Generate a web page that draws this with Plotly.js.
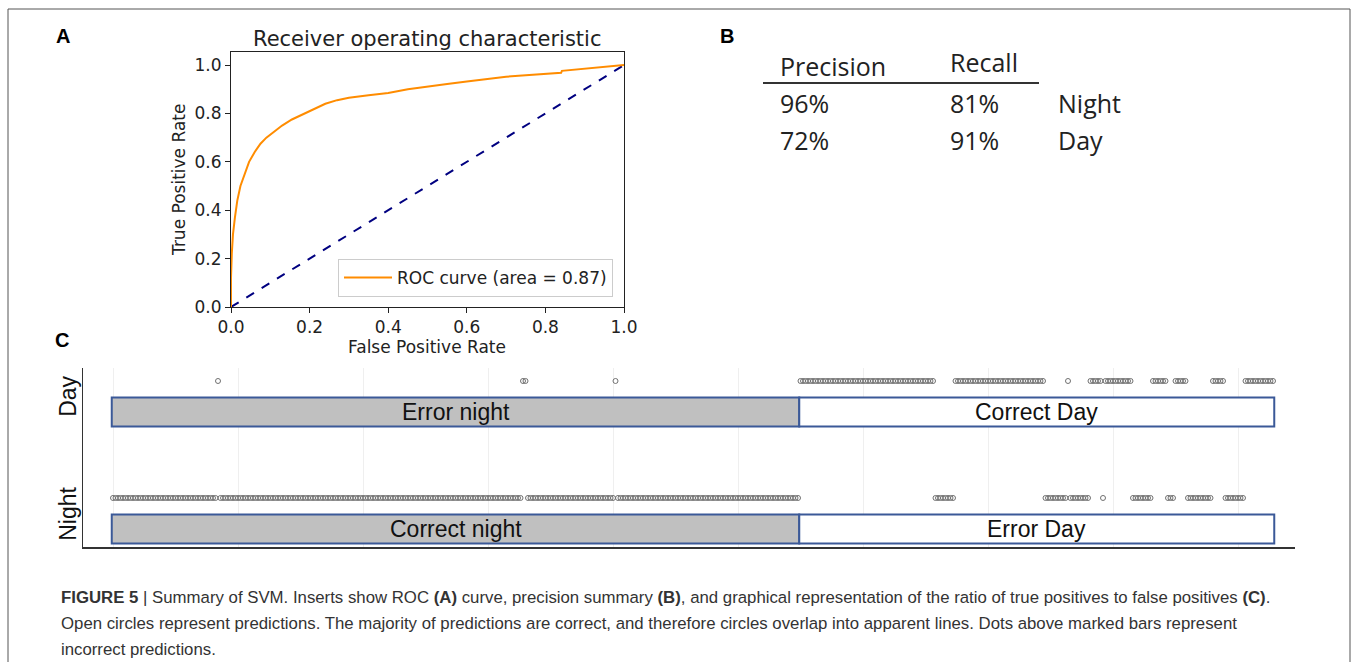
<!DOCTYPE html>
<html><head><meta charset="utf-8">
<script src="https://cdn.plot.ly/plotly-3.0.1.min.js"></script>
<style>html,body{margin:0;padding:0;background:#fff;}#chart{width:1358px;height:662px;}</style>
</head><body><div id="chart"></div>
<script>
// ---------- DATA ----------
// Panel A: ROC curve
const rocFpr = [0, 0, 0.002, 0.005, 0.01, 0.016, 0.024, 0.034, 0.046, 0.06, 0.075, 0.09, 0.11, 0.13, 0.155, 0.18, 0.2, 0.22, 0.24, 0.27, 0.3, 0.35, 0.4, 0.45, 0.5, 0.55, 0.6, 0.65, 0.7, 0.75, 0.8, 0.84, 0.842, 0.88, 0.92, 0.96, 1.0];
const rocTpr = [0, 0.12, 0.22, 0.3, 0.37, 0.44, 0.5, 0.55, 0.6, 0.64, 0.675, 0.7, 0.725, 0.75, 0.775, 0.795, 0.81, 0.825, 0.84, 0.855, 0.865, 0.875, 0.885, 0.9, 0.912, 0.922, 0.932, 0.942, 0.952, 0.958, 0.964, 0.968, 0.976, 0.982, 0.988, 0.994, 1.0];
const chanceLine = [0, 1];
const rocLegend = 'ROC curve (area = 0.87)';
const rocTitle = 'Receiver operating characteristic';
const rocXTitle = 'False Positive Rate';
const rocYTitle = 'True Positive Rate';
const rocTicks = [0, 0.2, 0.4, 0.6, 0.8, 1.0];

// Panel B: precision / recall summary
const tableHeaders = ['Precision', 'Recall'];
const tableClasses = ['Night', 'Day'];
const tablePrecision = ['96%', '72%'];
const tableRecall = ['81%', '91%'];

// Panel C: predictions per sample (run-length encoded, in sample order)
const rowNames = ['Night', 'Day'];               // y rows 0, 1
const predRunLabel = ['Night','Day','Night','Day','Night','Day','Night','Day','Night','Day','Night','Day','Night','Day','Night','Day','Night','Day','Night','Day','Night','Day','Night','Day'];
const predRunLength = [42, 1, 121, 2, 35, 1, 73, 54, 8, 36, 9, 1, 8, 5, 1, 11, 8, 6, 3, 5, 10, 5, 8, 12];
const trueRunLabel = ['Night', 'Day'];
const trueRunLength = [275, 190];
// bar captions: [true run][row Night, row Day]
const barCaptions = [['Correct night', 'Error night'], ['Error Day', 'Correct Day']];
const gridSamples = [0, 50, 100, 150, 200, 250, 300, 350, 400, 450];

const panelLetters = ['A', 'B', 'C'];
const captionLines = [
  '<b>FIGURE 5</b> | Summary of SVM. Inserts show ROC <b>(A)</b> curve, precision summary <b>(B)</b>, and graphical representation of the ratio of true positives to false positives <b>(C)</b>.',
  'Open circles represent predictions. The majority of predictions are correct, and therefore circles overlap into apparent lines. Dots above marked bars represent',
  'incorrect predictions.'
];

// ---------- LAYOUT HELPERS ----------
const W = 1358, H = 662;
const px = x => x / W;
const py = y => 1 - y / H;
const dotOffset = 0.265;
const barThickness = 0.248;

// decode predictions
const predX = {Night: [], Day: []};
let s = 0;
predRunLabel.forEach((lab, i) => { for (let k = 0; k < predRunLength[i]; k++) { predX[lab].push(s); s++; } });

const traces = [];
traces.push({x: chanceLine, y: chanceLine, type: 'scatter', mode: 'lines', line: {color: 'navy', width: 2, dash: 'dash'}, showlegend: false, xaxis: 'x', yaxis: 'y', hoverinfo: 'skip'});
traces.push({x: rocFpr, y: rocTpr, type: 'scatter', mode: 'lines', name: rocLegend, line: {color: 'darkorange', width: 2}, xaxis: 'x', yaxis: 'y'});

// bars (true labels)
let start = 0;
const annotations = [];
const barFills = {Night: '#c0c0c0', Day: '#ffffff'};
trueRunLabel.forEach((lab, t) => {
  const len = trueRunLength[t];
  const b = start - 0.5;
  traces.push({type: 'bar', orientation: 'h', y: [0, 1], x: [len, len], base: [b, b], width: barThickness,
    marker: {color: barFills[lab], line: {color: '#3b5998', width: 2}}, showlegend: false, xaxis: 'x2', yaxis: 'y2', hoverinfo: 'skip'});
  [0, 1].forEach(r => {
    annotations.push({xref: 'x2', yref: 'y2', x: b + len / 2, y: r, text: barCaptions[t][r], showarrow: false,
      font: {family: 'Liberation Sans, Arial', size: 23, color: '#111'}, xanchor: 'center', yanchor: 'middle'});
  });
  start += len;
});

// prediction dots
rowNames.forEach((name, r) => {
  traces.push({type: 'scatter', mode: 'markers', x: predX[name], y: predX[name].map(() => r + dotOffset),
    marker: {symbol: 'circle-open', size: 5, color: '#707070', line: {width: 1, color: '#707070'}},
    showlegend: false, xaxis: 'x2', yaxis: 'y2', hoverinfo: 'skip'});
  annotations.push({xref: 'paper', yref: 'y2', x: px(68), y: r + 0.13, text: name, textangle: -90, showarrow: false,
    font: {family: 'Liberation Sans, Arial', size: 23, color: '#111'}, xanchor: 'center', yanchor: 'middle'});
});

// Panel A texts
const dv = 'DejaVu Sans';
annotations.push({xref: 'paper', yref: 'paper', x: px(427), y: py(39), text: rocTitle, showarrow: false, font: {family: dv, size: 21, color: '#222'}, xanchor: 'center', yanchor: 'middle'});
annotations.push({xref: 'paper', yref: 'paper', x: px(427), y: py(347), text: rocXTitle, showarrow: false, font: {family: dv, size: 17, color: '#222'}, xanchor: 'center', yanchor: 'middle'});
annotations.push({xref: 'paper', yref: 'paper', x: px(179), y: py(180), text: rocYTitle, textangle: -90, showarrow: false, font: {family: dv, size: 17, color: '#222'}, xanchor: 'center', yanchor: 'middle'});

// Panel letters
const letterPos = [[63, 36], [727, 36], [62, 340]];
panelLetters.forEach((L, i) => annotations.push({xref: 'paper', yref: 'paper', x: px(letterPos[i][0]), y: py(letterPos[i][1]), text: '<b>' + L + '</b>', showarrow: false,
  font: {family: 'Liberation Sans, Arial', size: 20, color: '#000'}, xanchor: 'center', yanchor: 'middle'}));

// Panel B table
const tf = {family: 'Open Sans', size: 25, color: '#222'};
const colX = [778, 948, 1056];
annotations.push({xref: 'paper', yref: 'paper', x: px(colX[0]), y: py(66), text: tableHeaders[0], showarrow: false, font: tf, xanchor: 'left', yanchor: 'middle'});
annotations.push({xref: 'paper', yref: 'paper', x: px(colX[1]), y: py(62), text: tableHeaders[1], showarrow: false, font: tf, xanchor: 'left', yanchor: 'middle'});
const rowY = [103, 140];
tableClasses.forEach((c, i) => {
  annotations.push({xref: 'paper', yref: 'paper', x: px(colX[0]), y: py(rowY[i]), text: tablePrecision[i], showarrow: false, font: tf, xanchor: 'left', yanchor: 'middle'});
  annotations.push({xref: 'paper', yref: 'paper', x: px(colX[1]), y: py(rowY[i]), text: tableRecall[i], showarrow: false, font: tf, xanchor: 'left', yanchor: 'middle'});
  annotations.push({xref: 'paper', yref: 'paper', x: px(colX[2]), y: py(rowY[i]), text: c, showarrow: false, font: tf, xanchor: 'left', yanchor: 'middle'});
});

// Caption
const capY = [597, 623, 649];
captionLines.forEach((t, i) => annotations.push({xref: 'paper', yref: 'paper', x: px(59), y: py(capY[i]), text: t, showarrow: false,
  font: {family: 'Liberation Sans, Arial', size: 16.8, color: '#333'}, xanchor: 'left', yanchor: 'middle'}));

const shapes = [
  {type: 'rect', xref: 'paper', yref: 'paper', x0: px(8), x1: px(1350), y0: -0.05, y1: py(9), line: {color: '#555', width: 1}},
  {type: 'line', xref: 'paper', yref: 'paper', x0: px(763), x1: px(1039), y0: py(83), y1: py(83), line: {color: '#333', width: 2}}
];

const layout = {
  width: W, height: H, margin: {l: 0, r: 0, t: 0, b: 0}, paper_bgcolor: '#fff', plot_bgcolor: 'rgba(0,0,0,0)',
  showlegend: true,
  legend: {x: px(613), y: py(297), xanchor: 'right', yanchor: 'bottom', bgcolor: '#fff', bordercolor: '#ccc', borderwidth: 1,
    itemwidth: 48, font: {family: dv, size: 17, color: '#222'}},
  xaxis: {domain: [px(231), px(624)], range: [0, 1], tickvals: rocTicks, tickformat: '.1f', ticks: 'outside', ticklen: 5, tickcolor: '#222',
    showline: true, mirror: true, linecolor: '#222', linewidth: 1, showgrid: false, zeroline: false, tickfont: {family: dv, size: 17, color: '#222'}, anchor: 'y'},
  yaxis: {domain: [py(307), py(52)], range: [0, 1.054], tickvals: rocTicks, tickformat: '.1f', ticks: 'outside', ticklen: 5, tickcolor: '#222',
    showline: true, mirror: true, linecolor: '#222', linewidth: 1, showgrid: false, zeroline: false, tickfont: {family: dv, size: 17, color: '#222'}, anchor: 'x'},
  xaxis2: {domain: [px(83), px(1295)], range: [-12, 472.8], tickvals: gridSamples, showticklabels: false, ticks: '', showgrid: true, gridcolor: '#efefef',
    showline: true, linecolor: '#333', linewidth: 1.5, zeroline: false, anchor: 'y2'},
  yaxis2: {domain: [py(547), py(368)], range: [-0.154, 1.376], showticklabels: false, ticks: '', showgrid: false, zeroline: false,
    showline: true, linecolor: '#333', linewidth: 1.5, anchor: 'x2'},
  barmode: 'overlay',
  annotations: annotations,
  shapes: shapes
};

Plotly.newPlot('chart', traces, layout, {displayModeBar: false, staticPlot: true});
</script>
</body></html>
